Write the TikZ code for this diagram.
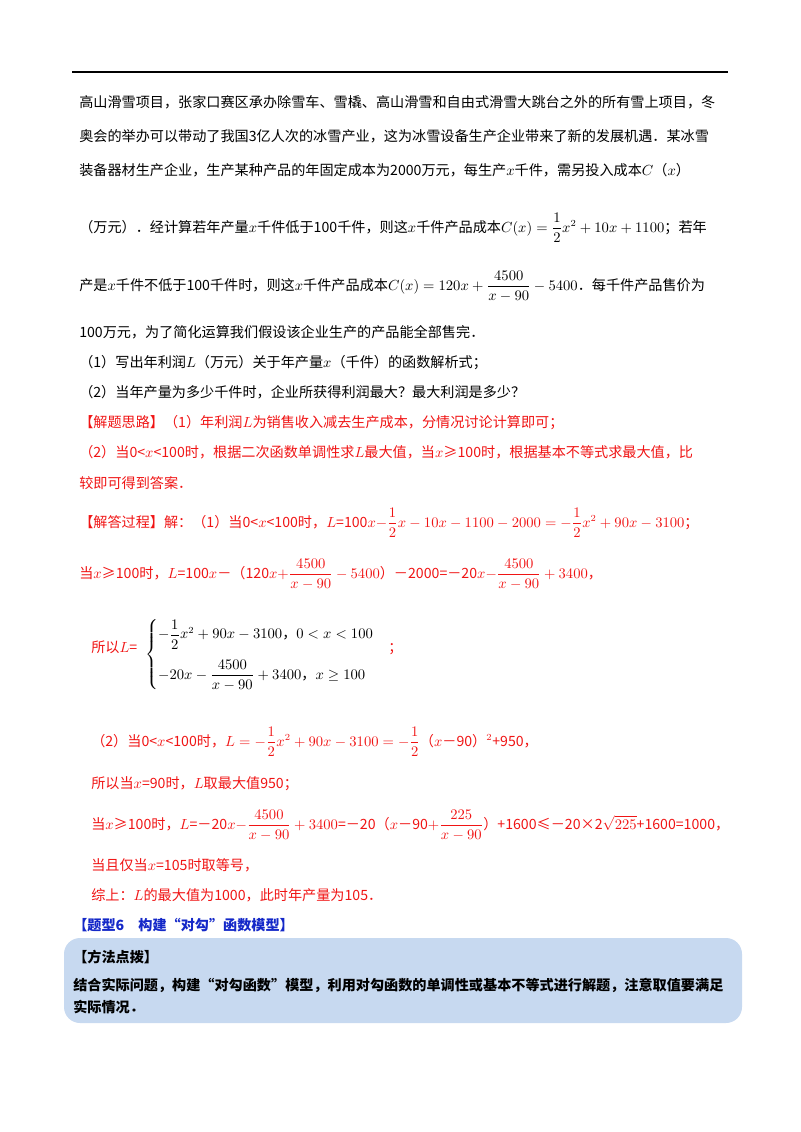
\documentclass[tikz,border=0pt]{standalone}
\usepackage{amsmath}
\usepackage{fontspec}
\setmainfont{Liberation Serif}
\newfontfamily\cjk{Noto Sans CJK SC}
\definecolor{rd}{RGB}{240,20,20}
\definecolor{bl}{RGB}{20,40,200}
\definecolor{bx}{RGB}{199,217,240}
\begin{document}
\begin{tikzpicture}[x=0.75pt,y=-0.75pt,
  t/.style={anchor=base west,inner sep=0pt,font=\cjk\fontsize{10.6pt}{12pt}\selectfont},
  r/.style={t,text=rd}]
\useasboundingbox (0,0) rectangle (800,1132);
\draw[line width=1.2pt] (72,72) -- (728,72);
\node[t] (l1) at (79,107) {高山滑雪项目，张家口赛区承办除雪车、雪橇、高山滑雪和自由式滑雪大跳台之外的所有雪上项目，冬};
\node[t] (l2) at (79,141) {奥会的举办可以带动了我国3亿人次的冰雪产业，这为冰雪设备生产企业带来了新的发展机遇．某冰雪};
\node[t] (l3) at (79,175) {装备器材生产企业，生产某种产品的年固定成本为2000万元，每生产$x$千件，需另投入成本$C$（$x$）};
\node[t] (l4) at (79,232) {（万元）．经计算若年产量$x$千件低于100千件，则这$x$千件产品成本$C(x)=\dfrac12x^2+10x+1100$；若年};
\node[t] (l5) at (79,290) {产是$x$千件不低于100千件时，则这$x$千件产品成本$C(x)=120x+\dfrac{4500}{x-90}-5400$．每千件产品售价为};
\node[t] (l6) at (79,337) {100万元，为了简化运算我们假设该企业生产的产品能全部售完．};
\node[t] (q1) at (79,367) {（1）写出年利润$L$（万元）关于年产量$x$（千件）的函数解析式；};
\node[t] (q2) at (79,397) {（2）当年产量为多少千件时，企业所获得利润最大？最大利润是多少？};
\node[r] (s1) at (79,427) {【解题思路】（1）年利润$L$为销售收入减去生产成本，分情况讨论计算即可；};
\node[r] (s2) at (79,457) {（2）当0<$x$<100时，根据二次函数单调性求$L$最大值，当$x$≥100时，根据基本不等式求最大值，比};
\node[r] (s3) at (79,488) {较即可得到答案．};
\node[r] (a1) at (79,527) {【解答过程】解：（1）当0<$x$<100时，$L$=100$x$$-\dfrac12x-10x-1100-2000=-\dfrac12x^2+90x-3100$；};
\node[r] (a2) at (79,578) {当$x$≥100时，$L$=100$x$－（120$x$$+\dfrac{4500}{x-90}-5400$）－2000=－20$x$$-\dfrac{4500}{x-90}+3400$，};
\node[r] (a3) at (91,652) {所以$L$=};
\node[t,anchor=west] (pw) at (145,655) {$\left\{\begin{array}{@{}l@{}}-\dfrac12x^2+90x-3100\text{，}0<x<100\\[12pt]-20x-\dfrac{4500}{x-90}+3400\text{，}x\ge100\end{array}\right.$};
\node[r] (a3b) at (388,652) {；};
\node[r] (b1) at (91,746) {（2）当0<$x$<100时，$L=-\dfrac12x^2+90x-3100=-\dfrac12$（$x$－90）$^2$+950，};
\node[r] (b2) at (91,788) {所以当$x$=90时，$L$取最大值950；};
\node[r] (b3) at (91,829) {当$x$≥100时，$L$=－20$x$$-\dfrac{4500}{x-90}+3400$=－20（$x$－90$+\dfrac{225}{x-90}$）+1600≤－20×2$\sqrt{225}$+1600=1000，};
\node[r] (b4) at (91,870) {当且仅当$x$=105时取等号，};
\node[r] (b5) at (91,900) {综上：$L$的最大值为1000，此时年产量为105．};
\node[t,text=bl,font=\cjk\bfseries\fontsize{10.6pt}{12pt}\selectfont] (h6) at (73,930) {【题型6\quad 构建“对勾”函数模型】};
\fill[bx,rounded corners=12pt] (64,938) rectangle (742,1023);
\node[t,font=\cjk\bfseries\fontsize{10.6pt}{12pt}\selectfont] (m1) at (73,962) {【方法点拨】};
\node[t,font=\cjk\bfseries\fontsize{10.6pt}{12pt}\selectfont] (m2) at (73,990) {结合实际问题，构建“对勾函数”模型，利用对勾函数的单调性或基本不等式进行解题，注意取值要满足};
\node[t,font=\cjk\bfseries\fontsize{10.6pt}{12pt}\selectfont] (m3) at (73,1012) {实际情况．};
\end{tikzpicture}
\end{document}
